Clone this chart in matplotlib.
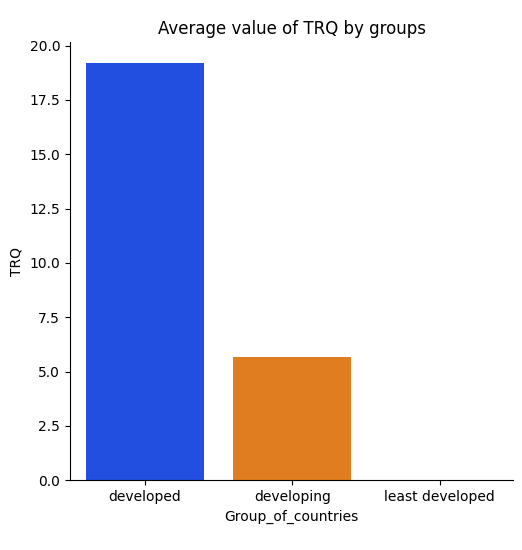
import matplotlib
matplotlib.use("Agg")
import matplotlib.pyplot as plt
import seaborn as sns

categories = ["developed", "developing", "least developed"]
values = [19.19, 5.68, 0.0]

palette = [sns.desaturate(c, 0.75) for c in sns.color_palette("bright", 3)]

fig = plt.figure(figsize=(5.22, 5.5), dpi=100)
ax = fig.add_axes([0.134, 0.127, 0.849, 0.796])
x = range(len(categories))
ax.bar(x, values, width=0.8, color=palette)
ax.set_xticks(list(x))
ax.set_xticklabels(categories)
ax.set_xlim(-0.51, 2.5)
ax.set_ylim(0, 20.15)
ax.set_yticks([0, 2.5, 5, 7.5, 10, 12.5, 15, 17.5, 20])
ax.set_yticklabels(["0.0", "2.5", "5.0", "7.5", "10.0", "12.5", "15.0", "17.5", "20.0"])
ax.spines["top"].set_visible(False)
ax.spines["right"].set_visible(False)
ax.set_xlabel("Group_of_countries")
ax.set_ylabel("TRQ")
ax.set_title("Average value of TRQ by groups")
fig.savefig("out.png", dpi=100)
